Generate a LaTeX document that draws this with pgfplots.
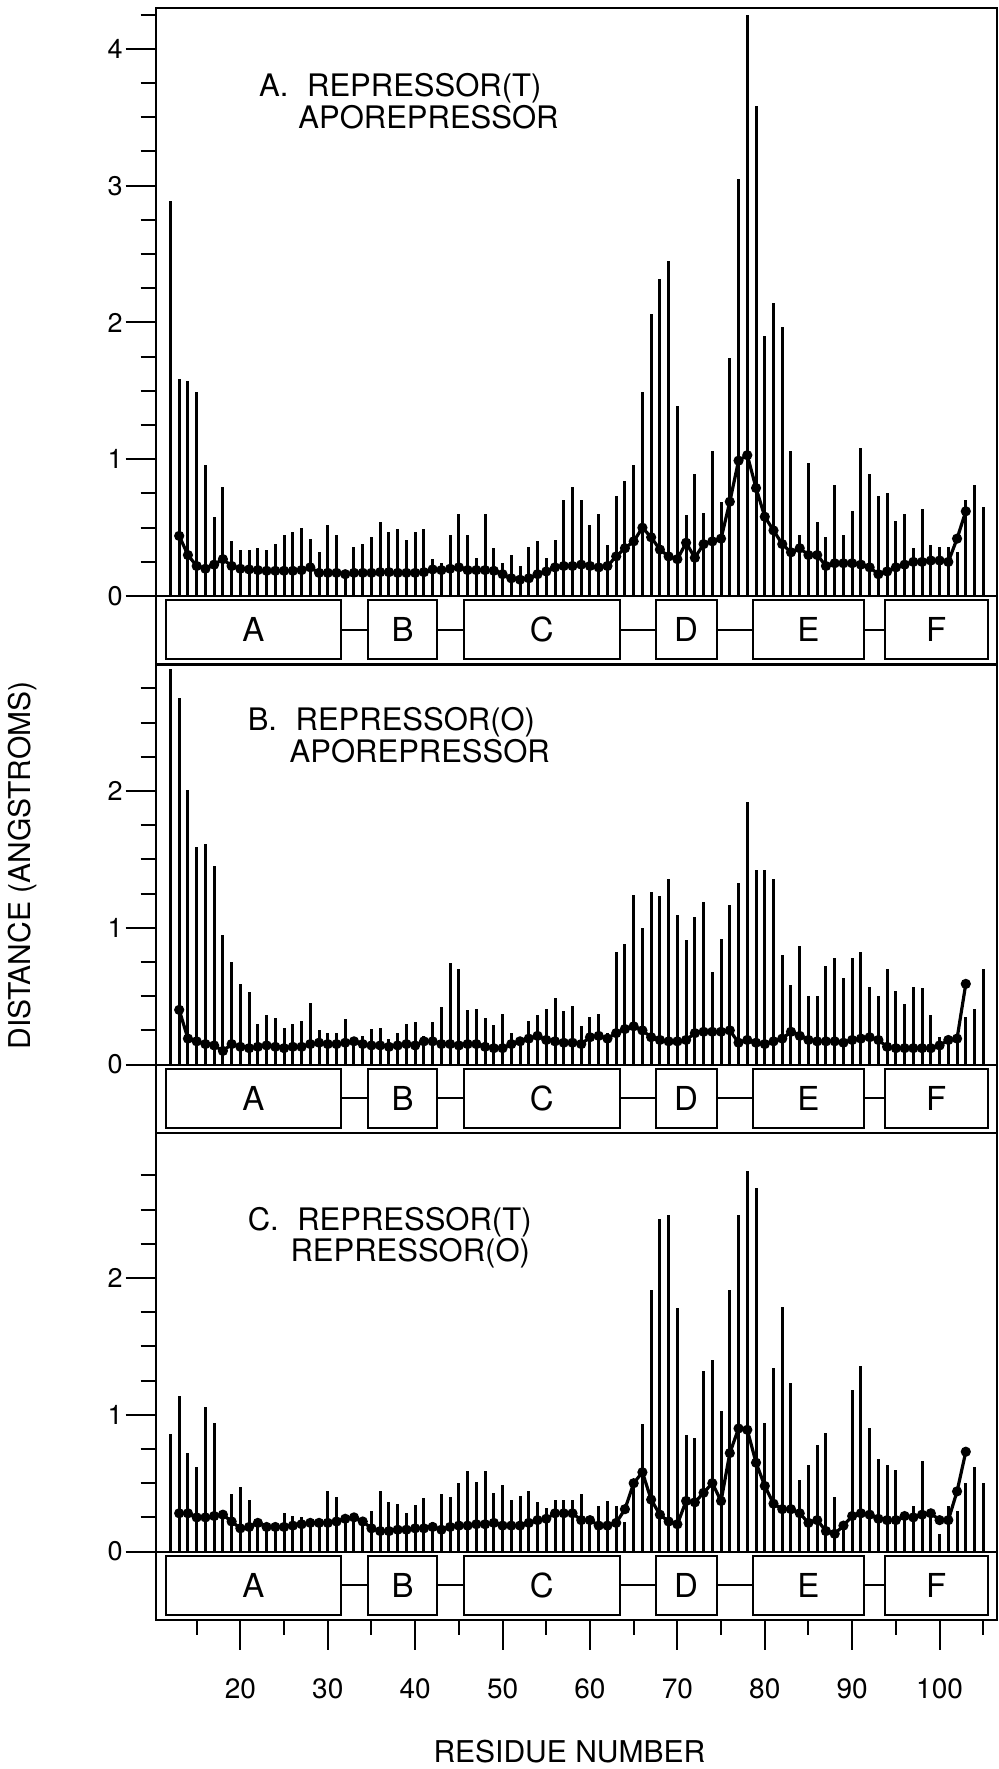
\documentclass[border=0pt]{standalone}
\usepackage{fontspec}
\setmainfont{TeX Gyre Heros}
\usepackage{pgfplots}
\usepackage{pgfplotstable}
\pgfplotsset{compat=1.18}

% bar values (residue, distance) and running average for each panel
\pgfplotstableread{
r d
12 2.89
13 1.59
14 1.57
15 1.49
16 0.96
17 0.58
18 0.80
19 0.40
20 0.34
21 0.34
22 0.35
23 0.34
24 0.38
25 0.45
26 0.47
27 0.50
28 0.42
29 0.32
30 0.52
31 0.45
32 0.19
33 0.36
34 0.38
35 0.43
36 0.54
37 0.47
38 0.49
39 0.41
40 0.47
41 0.49
42 0.27
43 0.24
44 0.45
45 0.60
46 0.45
47 0.28
48 0.60
49 0.35
50 0.24
51 0.30
52 0.22
53 0.36
54 0.40
55 0.28
56 0.41
57 0.70
58 0.80
59 0.70
60 0.52
61 0.60
62 0.37
63 0.73
64 0.84
65 0.96
66 1.49
67 2.06
68 2.32
69 2.45
70 1.39
71 0.59
72 0.89
73 0.61
74 1.06
75 0.69
76 1.74
77 3.05
78 4.25
79 3.58
80 1.90
81 2.14
82 1.97
83 1.06
84 0.45
85 0.97
86 0.54
87 0.43
88 0.81
89 0.45
90 0.62
91 1.08
92 0.89
93 0.73
94 0.75
95 0.55
96 0.60
97 0.35
98 0.64
99 0.37
100 0.36
101 0.36
102 0.32
103 0.70
104 0.81
105 0.65
}\barsA
\pgfplotstableread{
r m
13 0.44
14 0.30
15 0.22
16 0.20
17 0.23
18 0.27
19 0.22
20 0.20
21 0.195
22 0.19
23 0.185
24 0.185
25 0.185
26 0.185
27 0.19
28 0.21
29 0.17
30 0.17
31 0.17
32 0.16
33 0.17
34 0.17
35 0.17
36 0.175
37 0.175
38 0.17
39 0.17
40 0.17
41 0.175
42 0.195
43 0.19
44 0.20
45 0.21
46 0.19
47 0.19
48 0.19
49 0.185
50 0.16
51 0.13
52 0.12
53 0.13
54 0.16
55 0.18
56 0.21
57 0.22
58 0.22
59 0.23
60 0.22
61 0.21
62 0.22
63 0.29
64 0.35
65 0.40
66 0.50
67 0.43
68 0.34
69 0.29
70 0.27
71 0.39
72 0.28
73 0.38
74 0.40
75 0.42
76 0.69
77 0.99
78 1.03
79 0.79
80 0.58
81 0.48
82 0.38
83 0.32
84 0.35
85 0.30
86 0.30
87 0.22
88 0.24
89 0.24
90 0.24
91 0.23
92 0.21
93 0.16
94 0.18
95 0.21
96 0.23
97 0.25
98 0.25
99 0.26
100 0.26
101 0.25
102 0.42
103 0.62
}\avgA

\pgfplotstableread{
r d
12 2.89
13 2.68
14 2.01
15 1.59
16 1.61
17 1.45
18 0.95
19 0.75
20 0.59
21 0.53
22 0.30
23 0.36
24 0.34
25 0.27
26 0.30
27 0.32
28 0.45
29 0.25
30 0.23
31 0.23
32 0.33
33 0.17
34 0.21
35 0.26
36 0.27
37 0.19
38 0.23
39 0.30
40 0.31
41 0.21
42 0.31
43 0.42
44 0.74
45 0.70
46 0.40
47 0.41
48 0.34
49 0.29
50 0.37
51 0.23
52 0.17
53 0.32
54 0.36
55 0.41
56 0.49
57 0.39
58 0.43
59 0.28
60 0.35
61 0.37
62 0.23
63 0.82
64 0.88
65 1.24
66 1.00
67 1.26
68 1.23
69 1.36
70 1.09
71 0.91
72 1.08
73 1.19
74 0.68
75 0.92
76 1.17
77 1.33
78 1.92
79 1.42
80 1.42
81 1.36
82 0.80
83 0.58
84 0.87
85 0.50
86 0.50
87 0.72
88 0.78
89 0.63
90 0.78
91 0.82
92 0.57
93 0.50
94 0.70
95 0.54
96 0.44
97 0.57
98 0.56
99 0.36
100 0.20
101 0.21
102 0.22
103 0.35
104 0.41
105 0.70
}\barsB
\pgfplotstableread{
r m
13 0.40
14 0.19
15 0.17
16 0.15
17 0.14
18 0.10
19 0.15
20 0.13
21 0.12
22 0.13
23 0.14
24 0.13
25 0.12
26 0.13
27 0.13
28 0.15
29 0.16
30 0.15
31 0.15
32 0.16
33 0.17
34 0.15
35 0.14
36 0.14
37 0.13
38 0.14
39 0.15
40 0.14
41 0.17
42 0.17
43 0.15
44 0.15
45 0.14
46 0.15
47 0.15
48 0.13
49 0.12
50 0.12
51 0.15
52 0.17
53 0.19
54 0.21
55 0.18
56 0.17
57 0.16
58 0.16
59 0.15
60 0.20
61 0.21
62 0.19
63 0.23
64 0.26
65 0.28
66 0.25
67 0.20
68 0.18
69 0.17
70 0.17
71 0.18
72 0.23
73 0.24
74 0.24
75 0.24
76 0.25
77 0.16
78 0.18
79 0.16
80 0.15
81 0.17
82 0.19
83 0.24
84 0.21
85 0.18
86 0.17
87 0.17
88 0.17
89 0.16
90 0.18
91 0.19
92 0.20
93 0.18
94 0.13
95 0.12
96 0.12
97 0.12
98 0.12
99 0.12
100 0.14
101 0.18
102 0.19
103 0.59
}\avgB

\pgfplotstableread{
r d
12 0.86
13 1.14
14 0.72
15 0.62
16 1.06
17 0.94
18 0.27
19 0.42
20 0.47
21 0.38
22 0.22
23 0.18
24 0.17
25 0.28
26 0.26
27 0.25
28 0.20
29 0.20
30 0.44
31 0.40
32 0.26
33 0.26
34 0.24
35 0.30
36 0.44
37 0.36
38 0.35
39 0.28
40 0.34
41 0.39
42 0.22
43 0.42
44 0.40
45 0.50
46 0.59
47 0.51
48 0.59
49 0.43
50 0.49
51 0.38
52 0.41
53 0.44
54 0.36
55 0.32
56 0.38
57 0.38
58 0.38
59 0.42
60 0.24
61 0.33
62 0.37
63 0.33
64 0.22
65 0.50
66 0.93
67 1.91
68 2.43
69 2.46
70 1.78
71 0.85
72 0.83
73 1.32
74 1.40
75 1.03
76 1.91
77 2.46
78 2.78
79 2.66
80 0.94
81 1.34
82 1.79
83 1.23
84 0.52
85 0.63
86 0.78
87 0.87
88 0.40
89 0.21
90 1.18
91 1.36
92 0.90
93 0.68
94 0.63
95 0.60
96 0.27
97 0.33
98 0.66
99 0.28
100 0.13
101 0.33
102 0.30
103 0.50
104 0.62
105 0.50
}\barsC
\pgfplotstableread{
r m
13 0.28
14 0.28
15 0.25
16 0.25
17 0.26
18 0.27
19 0.22
20 0.17
21 0.18
22 0.21
23 0.18
24 0.18
25 0.18
26 0.19
27 0.20
28 0.21
29 0.21
30 0.21
31 0.22
32 0.24
33 0.25
34 0.22
35 0.17
36 0.15
37 0.15
38 0.16
39 0.16
40 0.17
41 0.17
42 0.18
43 0.16
44 0.18
45 0.19
46 0.19
47 0.20
48 0.20
49 0.21
50 0.19
51 0.19
52 0.19
53 0.21
54 0.23
55 0.24
56 0.28
57 0.28
58 0.28
59 0.23
60 0.23
61 0.19
62 0.19
63 0.21
64 0.31
65 0.50
66 0.58
67 0.38
68 0.27
69 0.22
70 0.20
71 0.37
72 0.36
73 0.43
74 0.50
75 0.37
76 0.72
77 0.90
78 0.89
79 0.65
80 0.48
81 0.35
82 0.31
83 0.31
84 0.28
85 0.21
86 0.23
87 0.15
88 0.13
89 0.19
90 0.26
91 0.28
92 0.27
93 0.24
94 0.23
95 0.23
96 0.26
97 0.25
98 0.27
99 0.28
100 0.23
101 0.23
102 0.44
103 0.73
}\avgC

\newcommand\titlefont{\fontsize{15.5}{15.5}\selectfont}
\newcommand\labfont{\fontsize{15}{15}\selectfont}
\newcommand\hfont{\fontsize{16.5}{16.5}\selectfont}

% helix boxes A-F under the baseline, with the joining lines
\newcommand\helices{%
  \draw[line width=1pt] (axis cs:10.3,0) -- (axis cs:106.6,0);
  \draw[line width=1pt] (axis cs:11.5,-0.03) rectangle (axis cs:31.5,-0.46);
  \draw[line width=1pt] (axis cs:34.6,-0.03) rectangle (axis cs:42.5,-0.46);
  \draw[line width=1pt] (axis cs:45.6,-0.03) rectangle (axis cs:63.4,-0.46);
  \draw[line width=1pt] (axis cs:67.5,-0.03) rectangle (axis cs:74.5,-0.46);
  \draw[line width=1pt] (axis cs:78.6,-0.03) rectangle (axis cs:91.4,-0.46);
  \draw[line width=1pt] (axis cs:93.7,-0.03) rectangle (axis cs:105.5,-0.46);
  \draw[line width=1pt] (axis cs:31.5,-0.245) -- (axis cs:34.6,-0.245);
  \draw[line width=1pt] (axis cs:42.5,-0.245) -- (axis cs:45.6,-0.245);
  \draw[line width=1pt] (axis cs:63.4,-0.245) -- (axis cs:67.5,-0.245);
  \draw[line width=1pt] (axis cs:74.5,-0.245) -- (axis cs:78.6,-0.245);
  \draw[line width=1pt] (axis cs:91.4,-0.245) -- (axis cs:93.7,-0.245);
  \node[font=\hfont] at (axis cs:21.5,-0.245) {A};
  \node[font=\hfont] at (axis cs:38.55,-0.245) {B};
  \node[font=\hfont] at (axis cs:54.5,-0.245) {C};
  \node[font=\hfont] at (axis cs:71,-0.245) {D};
  \node[font=\hfont] at (axis cs:85,-0.245) {E};
  \node[font=\hfont] at (axis cs:99.6,-0.245) {F};
}

\pgfplotsset{
  panel/.style={
    anchor=south west,
    x=4.37pt, y=68.4pt,
    xmin=10.3, xmax=106.6, ymin=-0.5,
    axis line style={line width=1.1pt},
    tick align=outside,
    major tick length=15pt, minor tick length=7.5pt,
    every tick/.style={black, line width=1pt},
    ytick pos=left, xtick pos=bottom,
    xtick=\empty,
    /pgf/number format/assume math mode=true,
    yticklabel style={font=\fontsize{13.5}{13.5}\selectfont},
    yticklabel shift=-2pt,
    xticklabel style={font=\fontsize{14}{14}\selectfont},
  },
  bars/.style={ycomb, black, line width=1.5pt, no marks},
  avg/.style={black, line width=1.6pt, mark=*, mark size=1.7pt},
}
\tikzset{ttl/.style={font=\titlefont, anchor=base west, inner sep=0pt}}

\begin{document}
\begin{tikzpicture}
\useasboundingbox (0,0) rectangle (499pt,884.5pt);

\begin{axis}[panel, at={(77.8pt,552.25pt)}, ymax=4.3,
  ytick={0,1,2,3,4}, minor ytick={0.25,0.5,...,4.25}]
\addplot[bars] table[x=r, y=d] {\barsA};
\addplot[avg] table[x=r, y=m] {\avgA};
\helices
\node[ttl] at (axis cs:22.1,3.65) {A.\hspace{0.6em}REPRESSOR(T)};
\node[ttl] at (axis cs:26.6,3.42) {APOREPRESSOR};
\end{axis}

\begin{axis}[panel, at={(77.8pt,318pt)}, ymax=2.925,
  ytick={0,1,2}, minor ytick={0.25,0.5,...,2.75}]
\addplot[bars] table[x=r, y=d] {\barsB};
\addplot[avg] table[x=r, y=m] {\avgB};
\helices
\node[ttl] at (axis cs:20.8,2.44) {B.\hspace{0.6em}REPRESSOR(O)};
\node[ttl] at (axis cs:25.6,2.21) {APOREPRESSOR};
\end{axis}

\begin{axis}[panel, at={(77.8pt,74.5pt)}, ymax=3.06,
  ytick={0,1,2}, minor ytick={0.25,0.5,...,2.75},
  xtick={20,30,...,100}, minor xtick={15,25,...,105},
  xticklabel shift=11pt]
\addplot[bars] table[x=r, y=d] {\barsC};
\addplot[avg] table[x=r, y=m] {\avgC};
\helices
\node[ttl] at (axis cs:20.8,2.35) {C.\hspace{0.6em}REPRESSOR(T)};
\node[ttl] at (axis cs:25.7,2.12) {REPRESSOR(O)};
\end{axis}

\node[font=\labfont, rotate=90] at (11.3pt,451.7pt) {DISTANCE (ANGSTROMS)};
\node[font=\labfont] at (284.7pt,8.8pt) {RESIDUE NUMBER};
\end{tikzpicture}
\end{document}
